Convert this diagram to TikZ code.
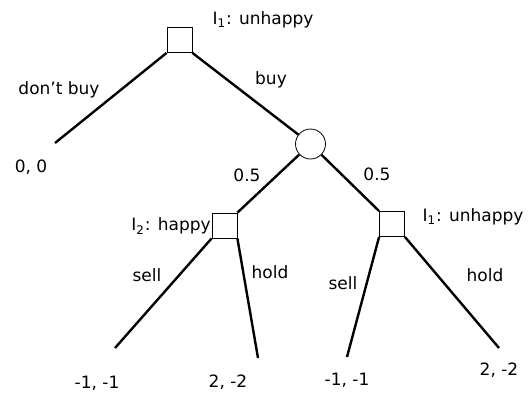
\documentclass[tikz,border=0pt]{standalone}
\usepackage{fontspec}
\setmainfont{DejaVu Sans}

\begin{document}
\begin{tikzpicture}[x=0.5pt, y=-0.5pt, font=\fontsize{8.5}{10}\selectfont,
        decision/.style={draw, rectangle, inner sep=0pt, minimum size=12.5pt, line width=0.4pt},
        chance/.style={draw, circle, inner sep=0pt, minimum size=15pt, line width=0.4pt},
        edge/.style={line width=1.2pt}]
        \useasboundingbox (0,0) rectangle (531,392);

        \node[decision] (root) at (179.5,40) {};
        \node[chance] (nature) at (310.5,144) {};
        \node[decision] (happy) at (224.5,225.5) {};
        \node[decision] (unhappy) at (392,224) {};

        \coordinate (nobuy) at (55,143);
        \coordinate (sellA) at (115,348);
        \coordinate (holdA) at (258,358);
        \coordinate (sellB) at (347,357);
        \coordinate (holdB) at (499,348);

        \draw[edge] (root.south west) -- (nobuy);
        \draw[edge] (root.south east) -- (nature);
        \draw[edge] (nature) -- (happy.north east);
        \draw[edge] (nature) -- (unhappy.north west);
        \draw[edge] (happy.south west) -- (sellA);
        \draw[edge] (happy.south east) -- (holdA);
        \draw[edge] (unhappy.south west) -- (sellB);
        \draw[edge] (unhappy.south east) -- (holdB);

        % labels
        \node (lroot) at (263,20) {I\textsubscript{1}: unhappy};
        \node (ldont) at (59,90) {don't buy};
        \node (lbuy) at (271,80) {buy};
        \node (pay0) at (31,167) {0, 0};
        \node (pleft) at (247,175) {0.5};
        \node (pright) at (377,174) {0.5};
        \node (lhappy) at (171,226) {I\textsubscript{2}: happy};
        \node (lunhappy) at (473,217) {I\textsubscript{1}: unhappy};
        \node (lsellA) at (147,275) {sell};
        \node (lholdA) at (270,272) {hold};
        \node (lsellB) at (343,283) {sell};
        \node (lholdB) at (485,275) {hold};
        \node (payA) at (97,383) {-1, -1};
        \node (payB) at (228,382) {2, -2};
        \node (payC) at (347,380) {-1, -1};
        \node (payD) at (499,370) {2, -2};
\end{tikzpicture}
\end{document}
